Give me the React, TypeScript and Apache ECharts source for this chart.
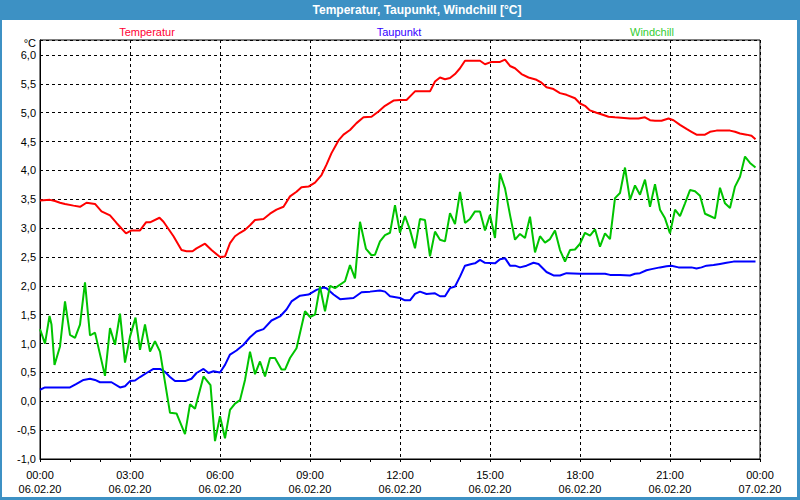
import React, { useEffect, useRef } from "react";
import * as echarts from "echarts";

// time in minutes since 06.02.20 00:00, value in °C
const temperatur: [number, number][] = [
  [0, 3.48], [20, 3.49], [30, 3.47], [40, 3.44], [50, 3.42], [67, 3.39], [80, 3.37], [93, 3.44],
  [110, 3.42], [123, 3.29], [140, 3.22], [153, 3.09], [172, 2.91], [183, 2.96], [200, 2.96],
  [212, 3.1], [220, 3.1], [239, 3.18], [247, 3.11], [267, 2.86], [283, 2.62], [293, 2.6],
  [305, 2.6], [313, 2.65], [330, 2.73], [343, 2.62], [360, 2.5], [370, 2.51], [380, 2.74],
  [390, 2.86], [400, 2.92], [410, 2.97], [420, 3.05], [430, 3.14], [447, 3.16], [460, 3.25],
  [473, 3.32], [487, 3.37], [500, 3.55], [513, 3.63], [523, 3.71], [537, 3.72], [550, 3.79],
  [563, 3.92], [573, 4.1], [583, 4.3], [597, 4.52], [607, 4.62], [620, 4.7], [633, 4.82],
  [647, 4.92], [663, 4.93], [677, 5.02], [690, 5.12], [707, 5.21], [720, 5.22], [733, 5.22],
  [750, 5.37], [780, 5.37], [790, 5.54], [800, 5.61], [810, 5.58], [820, 5.6], [830, 5.67],
  [840, 5.77], [850, 5.9], [880, 5.9], [890, 5.84], [903, 5.88], [920, 5.88], [930, 5.92],
  [940, 5.81], [950, 5.77], [963, 5.67], [977, 5.61], [993, 5.57], [1003, 5.52], [1013, 5.44],
  [1027, 5.41], [1040, 5.34], [1053, 5.31], [1070, 5.25], [1080, 5.16], [1090, 5.12],
  [1100, 5.04], [1113, 5.0], [1127, 4.96], [1137, 4.93], [1150, 4.92], [1180, 4.9], [1197, 4.9],
  [1210, 4.92], [1220, 4.87], [1230, 4.86], [1243, 4.86], [1257, 4.9], [1267, 4.87], [1280, 4.79],
  [1293, 4.72], [1303, 4.67], [1313, 4.62], [1330, 4.62], [1340, 4.67], [1353, 4.69], [1380, 4.69],
  [1390, 4.67], [1400, 4.64], [1413, 4.62], [1423, 4.6], [1431, 4.54],
];

const taupunkt: [number, number][] = [
  [0, 0.2], [10, 0.24], [60, 0.24], [73, 0.3], [87, 0.37], [100, 0.39], [110, 0.37], [120, 0.33],
  [143, 0.33], [160, 0.24], [170, 0.26], [180, 0.35], [190, 0.36], [200, 0.42], [213, 0.49],
  [227, 0.56], [240, 0.56], [250, 0.51], [260, 0.42], [270, 0.35], [290, 0.35], [303, 0.39],
  [313, 0.49], [327, 0.56], [337, 0.49], [347, 0.52], [360, 0.5], [370, 0.63], [380, 0.81],
  [393, 0.88], [407, 0.98], [420, 1.11], [433, 1.21], [447, 1.25], [463, 1.4], [480, 1.47],
  [493, 1.59], [503, 1.73], [520, 1.83], [537, 1.85], [553, 1.93], [567, 1.97], [573, 1.96],
  [587, 1.85], [600, 1.77], [627, 1.79], [643, 1.89], [660, 1.9], [680, 1.92], [690, 1.9],
  [700, 1.82], [720, 1.79], [730, 1.75], [740, 1.75], [750, 1.86], [760, 1.9], [773, 1.86],
  [790, 1.87], [800, 1.82], [810, 1.82], [820, 1.96], [830, 1.99], [840, 2.16], [850, 2.35],
  [863, 2.38], [870, 2.39], [880, 2.45], [890, 2.4], [910, 2.39], [920, 2.46], [930, 2.48],
  [940, 2.35], [950, 2.35], [960, 2.32], [973, 2.35], [987, 2.4], [997, 2.38], [1013, 2.24],
  [1027, 2.18], [1040, 2.18], [1053, 2.22], [1080, 2.21], [1130, 2.21], [1140, 2.19], [1160, 2.19],
  [1180, 2.18], [1190, 2.21], [1200, 2.22], [1213, 2.27], [1223, 2.29], [1240, 2.32], [1253, 2.34],
  [1263, 2.35], [1277, 2.32], [1303, 2.32], [1313, 2.3], [1323, 2.32], [1333, 2.35], [1347, 2.36],
  [1360, 2.38], [1373, 2.4], [1387, 2.42], [1431, 2.42],
];

const windchill: [number, number][] = [
  [0, 1.25], [10, 1.0], [19, 1.48], [23, 1.33], [29, 0.63], [40, 0.95], [50, 1.73], [60, 1.15],
  [70, 1.1], [80, 1.33], [90, 2.06], [100, 1.14], [110, 1.19], [130, 0.44], [140, 1.27], [150, 0.98],
  [160, 1.52], [170, 0.67], [180, 1.12], [191, 1.45], [200, 0.89], [210, 1.33], [220, 0.86],
  [230, 1.04], [240, 0.86], [260, -0.2], [273, -0.21], [290, -0.57], [300, -0.05], [310, -0.13],
  [327, 0.43], [341, 0.28], [350, -0.69], [360, -0.26], [370, -0.64], [380, -0.15], [390, -0.04],
  [400, 0.02], [410, 0.37], [420, 0.86], [430, 0.47], [440, 0.69], [450, 0.43], [460, 0.75],
  [470, 0.75], [483, 0.55], [490, 0.55], [500, 0.75], [513, 0.92], [530, 1.56], [540, 1.46],
  [550, 1.5], [560, 1.99], [570, 1.56], [580, 2.0], [590, 1.96], [610, 2.08], [620, 2.36],
  [630, 2.13], [640, 3.11], [652, 2.64], [663, 2.53], [670, 2.54], [680, 2.77], [690, 2.88],
  [700, 2.92], [710, 3.4], [720, 2.92], [730, 3.21], [740, 2.97], [750, 2.65], [760, 3.16],
  [770, 3.14], [780, 2.51], [790, 2.94], [800, 2.8], [810, 2.77], [820, 3.26], [830, 3.07],
  [840, 3.63], [850, 3.09], [860, 3.16], [870, 3.29], [880, 3.29], [890, 2.96], [900, 3.23],
  [910, 2.83], [920, 3.95], [930, 3.69], [940, 3.23], [950, 2.8], [960, 2.9], [970, 2.83],
  [980, 3.2], [990, 2.58], [1000, 2.86], [1010, 2.75], [1020, 2.81], [1030, 2.96], [1040, 2.62],
  [1050, 2.42], [1060, 2.62], [1070, 2.63], [1080, 2.73], [1090, 2.92], [1100, 2.87], [1110, 2.98],
  [1120, 2.68], [1130, 2.91], [1140, 2.81], [1150, 3.52], [1160, 3.61], [1170, 4.05], [1180, 3.49],
  [1190, 3.74], [1200, 3.58], [1210, 3.84], [1220, 3.37], [1230, 3.76], [1240, 3.32], [1250, 3.17],
  [1260, 2.91], [1270, 3.32], [1280, 3.21], [1290, 3.43], [1300, 3.66], [1310, 3.64], [1320, 3.56],
  [1330, 3.25], [1340, 3.21], [1350, 3.17], [1360, 3.7], [1370, 3.43], [1380, 3.35], [1390, 3.72],
  [1400, 3.89], [1410, 4.24], [1420, 4.13], [1431, 4.05],
];

const seriesNames = ["Temperatur", "Taupunkt", "Windchill"];
const seriesColors = ["#ff0000", "#0000ff", "#00c400"];
const legendLabelColors = ["#ff0033", "#3300ff", "#33cc33"];
const titleText = "Temperatur, Taupunkt, Windchill [°C]";
const unitText = "°C";
const dateLabels = ["06.02.20", "07.02.20"];

const FONT = "'Liberation Sans', Arial, sans-serif";
const FRAME = "#3d91c4";

const pad = (n: number) => String(n).padStart(2, "0");

export default function App() {
  const ref = useRef<HTMLDivElement>(null);

  useEffect(() => {
    if (!ref.current) return;
    const chart = echarts.init(ref.current, undefined, { renderer: "svg" });
    const legendX = [147, 399, 652];
    chart.setOption({
      animation: false,
      backgroundColor: "#ffffff",
      grid: {
        left: 40,
        top: 40,
        width: 720,
        height: 419,
        show: true,
        borderColor: "#000",
        borderWidth: 1,
        backgroundColor: "#fff",
      },
      graphic: [
        { type: "rect", left: 0, top: 0, shape: { width: 800, height: 20 }, style: { fill: FRAME }, silent: true },
        { type: "rect", left: 0, top: 20, shape: { width: 2, height: 480 }, style: { fill: FRAME }, silent: true },
        { type: "rect", left: 797, top: 20, shape: { width: 3, height: 480 }, style: { fill: FRAME }, silent: true },
        { type: "rect", left: 0, top: 497, shape: { width: 800, height: 3 }, style: { fill: FRAME }, silent: true },
        {
          type: "text",
          x: 417,
          y: 10,
          style: {
            text: titleText,
            fill: "#ffffff",
            font: `bold 12px ${FONT}`,
            textAlign: "center",
            textVerticalAlign: "middle",
          },
        },
        ...seriesNames.map((n, i) => ({
          type: "text",
          x: legendX[i],
          y: 32,
          style: {
            text: n,
            fill: legendLabelColors[i],
            font: `11px ${FONT}`,
            textAlign: "center",
            textVerticalAlign: "middle",
          },
        })),
        {
          type: "text",
          x: 36,
          y: 43,
          style: {
            text: unitText,
            fill: "#000",
            font: `11px ${FONT}`,
            textAlign: "right",
            textVerticalAlign: "middle",
          },
        },
      ],
      xAxis: {
        type: "value",
        min: 0,
        max: 1440,
        interval: 180,
        axisLine: { show: true, onZero: false, lineStyle: { color: "#000", width: 1 } },
        axisTick: { show: true, length: 3, lineStyle: { color: "#000" } },
        minorTick: { show: true, splitNumber: 3, length: 3, lineStyle: { color: "#000" } },
        splitLine: { show: true, lineStyle: { color: "#000", type: [3, 3], width: 1 } },
        axisLabel: {
          color: "#000",
          fontFamily: FONT,
          fontSize: 11,
          lineHeight: 14,
          margin: 9,
          formatter: (v: number) =>
            `${pad(Math.floor(v / 60) % 24)}:${pad(v % 60)}\n${v >= 1440 ? dateLabels[1] : dateLabels[0]}`,
        },
      },
      yAxis: {
        type: "value",
        min: -1,
        max: 6.26,
        interval: 0.5,
        axisLine: { show: true, onZero: false, lineStyle: { color: "#000", width: 1 } },
        axisTick: { show: false },
        splitLine: { show: true, lineStyle: { color: "#000", type: [3, 3], width: 1 } },
        axisLabel: {
          color: "#000",
          fontFamily: FONT,
          fontSize: 11,
          margin: 4,
          showMaxLabel: false,
          formatter: (v: number) => (Math.abs(v - 6.26) < 0.001 ? "" : v.toFixed(1).replace(".", ",")),
        },
      },
      series: [temperatur, taupunkt, windchill].map((d, i) => ({
        name: seriesNames[i],
        type: "line",
        data: d,
        showSymbol: false,
        symbol: "none",
        lineStyle: { color: seriesColors[i], width: 2 },
        itemStyle: { color: seriesColors[i] },
        z: 3 + i,
      })),
    });
    return () => chart.dispose();
  }, []);

  return (
    <div
      ref={ref}
      style={{ position: "fixed", left: 0, top: 0, width: 800, height: 500 }}
    />
  );
}
